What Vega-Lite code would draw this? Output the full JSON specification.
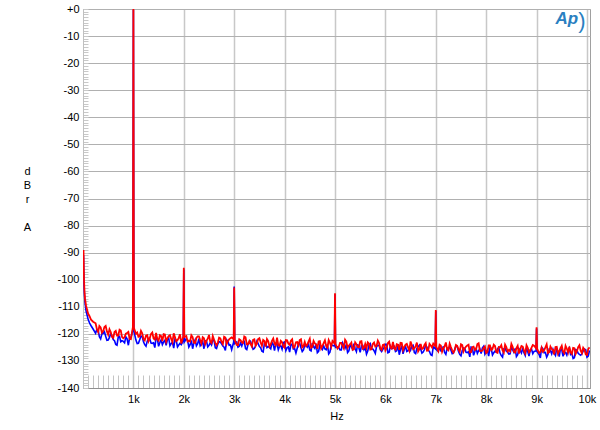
{
  "$schema": "https://vega.github.io/schema/vega-lite/v6.json",
  "width": 507,
  "height": 379,
  "autosize": {"type": "none"},
  "padding": {"left": 83, "top": 9, "right": 10, "bottom": 42},
  "background": "white",
  "config": {"view": {"stroke": "#a0a0a0", "strokeWidth": 1}, "font": "Liberation Sans"},
  "data": {"values": [
    {"f":10,"r":-89,"b":-91},{"f":20,"r":-100,"b":-102},{"f":30,"r":-104.5,"b":-106},{"f":40,"r":-107,"b":-108.5},
    {"f":60,"r":-109.5,"b":-111.5},{"f":80,"r":-111,"b":-113},{"f":100,"r":-112.5,"b":-114.5},{"f":130,"r":-113.5,"b":-116},
    {"f":160,"r":-114.8,"b":-117},{"f":200,"r":-115.5,"b":-118.2},
    {"f":250,"r":-116.1,"b":-119.8},{"f":300,"r":-119.3,"b":-118.5},{"f":350,"r":-117.6,"b":-121.9},{"f":400,"r":-119.0,"b":-119.8},
    {"f":450,"r":-117.1,"b":-120.9},{"f":500,"r":-120.3,"b":-122.3},{"f":550,"r":-119.3,"b":-119.9},{"f":600,"r":-121.5,"b":-122.1},
    {"f":650,"r":-118.9,"b":-123.9},{"f":700,"r":-120.6,"b":-121.1},{"f":750,"r":-118.8,"b":-122.9},{"f":800,"r":-121.6,"b":-122.8},
    {"f":850,"r":-119.9,"b":-121.1},{"f":900,"r":-119.3,"b":-124.2},{"f":950,"r":-122.0,"b":-121.4},
    {"f":990,"r":-117.5,"b":-118.5},{"f":1000,"r":0,"b":-0.3},{"f":1010,"r":-117.8,"b":-119.0},
    {"f":1050,"r":-120.0,"b":-122.3},{"f":1100,"r":-121.1,"b":-123.5},{"f":1150,"r":-118.9,"b":-120.8},{"f":1200,"r":-121.9,"b":-122.9},
    {"f":1250,"r":-120.7,"b":-124.6},{"f":1300,"r":-122.7,"b":-121.7},{"f":1350,"r":-120.0,"b":-123.4},{"f":1400,"r":-121.7,"b":-123.3},
    {"f":1450,"r":-119.7,"b":-121.5},{"f":1500,"r":-122.5,"b":-124.6},{"f":1550,"r":-120.8,"b":-122.2},{"f":1600,"r":-120.1,"b":-123.0},
    {"f":1650,"r":-122.9,"b":-124.2},{"f":1700,"r":-120.8,"b":-121.5},{"f":1750,"r":-121.9,"b":-123.6},{"f":1800,"r":-119.8,"b":-125.3},
    {"f":1850,"r":-122.7,"b":-122.4},{"f":1900,"r":-121.5,"b":-124.1},{"f":1950,"r":-123.6,"b":-124.0},
    {"f":1990,"r":-121.0,"b":-122.5},{"f":2000,"r":-95.6,"b":-96.2},{"f":2010,"r":-121.2,"b":-123.0},
    {"f":2050,"r":-120.8,"b":-121.8},{"f":2100,"r":-122.5,"b":-124.9},{"f":2150,"r":-120.5,"b":-122.4},{"f":2200,"r":-123.3,"b":-123.3},
    {"f":2250,"r":-121.5,"b":-124.4},{"f":2300,"r":-120.9,"b":-121.8},{"f":2350,"r":-123.6,"b":-123.8},{"f":2400,"r":-121.6,"b":-125.5},
    {"f":2450,"r":-122.6,"b":-122.6},{"f":2500,"r":-120.4,"b":-124.2},{"f":2550,"r":-123.4,"b":-124.1},{"f":2600,"r":-122.1,"b":-122.3},
    {"f":2650,"r":-124.2,"b":-125.4},{"f":2700,"r":-121.4,"b":-122.9},{"f":2750,"r":-123.0,"b":-123.7},{"f":2800,"r":-121.1,"b":-124.9},
    {"f":2850,"r":-123.8,"b":-122.2},{"f":2900,"r":-122.0,"b":-124.2},{"f":2950,"r":-121.3,"b":-125.8},
    {"f":2990,"r":-122.0,"b":-123.0},{"f":3000,"r":-102.9,"b":-102.5},{"f":3010,"r":-122.3,"b":-123.6},
    {"f":3050,"r":-124.1,"b":-123.0},{"f":3100,"r":-122.0,"b":-124.6},{"f":3150,"r":-123.1,"b":-124.5},{"f":3200,"r":-121.0,"b":-122.8},
    {"f":3250,"r":-123.9,"b":-125.8},{"f":3300,"r":-122.7,"b":-123.4},{"f":3350,"r":-124.7,"b":-124.2},{"f":3400,"r":-122.0,"b":-125.4},
    {"f":3450,"r":-123.6,"b":-122.7},{"f":3500,"r":-121.6,"b":-124.7},{"f":3550,"r":-124.4,"b":-126.4},{"f":3600,"r":-122.6,"b":-123.5},
    {"f":3650,"r":-121.9,"b":-125.1},{"f":3700,"r":-124.7,"b":-125.0},{"f":3750,"r":-122.6,"b":-123.2},{"f":3800,"r":-123.6,"b":-126.2},
    {"f":3850,"r":-121.4,"b":-123.7},{"f":3900,"r":-124.4,"b":-124.6},{"f":3950,"r":-123.1,"b":-125.7},{"f":4000,"r":-125.1,"b":-123.0},
    {"f":4050,"r":-122.4,"b":-125.1},{"f":4100,"r":-124.0,"b":-126.7},{"f":4150,"r":-122.0,"b":-123.8},{"f":4200,"r":-124.8,"b":-125.5},
    {"f":4250,"r":-123.0,"b":-125.3},{"f":4300,"r":-122.3,"b":-123.5},{"f":4350,"r":-125.0,"b":-126.5},{"f":4400,"r":-123.0,"b":-124.1},
    {"f":4450,"r":-124.0,"b":-124.9},{"f":4500,"r":-121.8,"b":-126.0},{"f":4550,"r":-124.8,"b":-123.4},{"f":4600,"r":-123.5,"b":-125.4},
    {"f":4650,"r":-125.5,"b":-127.0},{"f":4700,"r":-122.7,"b":-124.1},{"f":4750,"r":-124.4,"b":-125.8},{"f":4800,"r":-122.4,"b":-125.6},
    {"f":4850,"r":-125.1,"b":-123.8},{"f":4900,"r":-123.3,"b":-126.8},{"f":4950,"r":-122.6,"b":-124.3},
    {"f":4990,"r":-123.5,"b":-124.5},{"f":5000,"r":-105.0,"b":-105.4},{"f":5010,"r":-123.8,"b":-125.0},
    {"f":5050,"r":-125.4,"b":-124.8},{"f":5100,"r":-123.3,"b":-125.9},{"f":5150,"r":-124.4,"b":-123.3},{"f":5200,"r":-122.2,"b":-125.3},
    {"f":5250,"r":-125.1,"b":-126.9},{"f":5300,"r":-123.9,"b":-124.1},{"f":5350,"r":-125.9,"b":-125.7},{"f":5400,"r":-123.1,"b":-125.5},
    {"f":5450,"r":-124.8,"b":-123.8},{"f":5500,"r":-122.8,"b":-126.8},{"f":5550,"r":-125.5,"b":-124.3},{"f":5600,"r":-123.7,"b":-125.1},
    {"f":5650,"r":-123.1,"b":-126.3},{"f":5700,"r":-125.8,"b":-123.6},{"f":5750,"r":-123.7,"b":-125.6},{"f":5800,"r":-124.7,"b":-127.2},
    {"f":5850,"r":-122.5,"b":-124.3},{"f":5900,"r":-125.4,"b":-125.9},{"f":5950,"r":-124.1,"b":-125.7},{"f":6000,"r":-126.1,"b":-123.9},
    {"f":6050,"r":-123.4,"b":-127.0},{"f":6100,"r":-125.0,"b":-124.5},{"f":6150,"r":-123.0,"b":-125.3},{"f":6200,"r":-125.8,"b":-126.5},
    {"f":6250,"r":-124.0,"b":-123.8},{"f":6300,"r":-123.3,"b":-125.8},{"f":6350,"r":-126.0,"b":-127.4},{"f":6400,"r":-124.0,"b":-124.6},
    {"f":6450,"r":-125.0,"b":-126.2},{"f":6500,"r":-122.8,"b":-126.0},{"f":6550,"r":-125.7,"b":-124.2},{"f":6600,"r":-124.5,"b":-127.3},
    {"f":6650,"r":-126.5,"b":-124.8},{"f":6700,"r":-123.7,"b":-125.6},{"f":6750,"r":-125.3,"b":-126.7},{"f":6800,"r":-123.4,"b":-124.1},
    {"f":6850,"r":-126.1,"b":-126.1},{"f":6900,"r":-124.3,"b":-127.7},{"f":6950,"r":-123.6,"b":-124.8},
    {"f":6990,"r":-124.5,"b":-125.5},{"f":7000,"r":-111.2,"b":-111.6},{"f":7010,"r":-124.8,"b":-125.8},
    {"f":7050,"r":-126.4,"b":-126.5},{"f":7100,"r":-124.3,"b":-126.3},{"f":7150,"r":-125.4,"b":-124.6},{"f":7200,"r":-123.2,"b":-127.6},
    {"f":7250,"r":-126.1,"b":-125.1},{"f":7300,"r":-124.9,"b":-126.0},{"f":7350,"r":-126.9,"b":-127.1},{"f":7400,"r":-124.1,"b":-124.4},
    {"f":7450,"r":-125.7,"b":-126.4},{"f":7500,"r":-123.8,"b":-128.1},{"f":7550,"r":-126.5,"b":-125.2},{"f":7600,"r":-124.7,"b":-126.8},
    {"f":7650,"r":-124.0,"b":-126.6},{"f":7700,"r":-126.8,"b":-124.9},{"f":7750,"r":-124.7,"b":-127.9},{"f":7800,"r":-125.7,"b":-125.4},
    {"f":7850,"r":-123.5,"b":-126.2},{"f":7900,"r":-126.4,"b":-127.3},{"f":7950,"r":-125.1,"b":-124.6},{"f":8000,"r":-127.1,"b":-126.6},
    {"f":8050,"r":-124.3,"b":-128.2},{"f":8100,"r":-126.0,"b":-125.4},{"f":8150,"r":-124.0,"b":-127.0},{"f":8200,"r":-126.7,"b":-126.8},
    {"f":8250,"r":-124.9,"b":-125.0},{"f":8300,"r":-124.2,"b":-128.0},{"f":8350,"r":-126.9,"b":-125.5},{"f":8400,"r":-124.9,"b":-126.4},
    {"f":8450,"r":-125.9,"b":-127.5},{"f":8500,"r":-123.7,"b":-124.8},{"f":8550,"r":-126.6,"b":-126.8},{"f":8600,"r":-125.3,"b":-128.4},
    {"f":8650,"r":-127.3,"b":-125.5},{"f":8700,"r":-124.5,"b":-127.1},{"f":8750,"r":-126.2,"b":-127.0},{"f":8800,"r":-124.2,"b":-125.2},
    {"f":8850,"r":-126.9,"b":-128.2},{"f":8900,"r":-125.1,"b":-125.7},{"f":8950,"r":-124.4,"b":-126.5},
    {"f":8990,"r":-125.3,"b":-126.3},{"f":9000,"r":-117.6,"b":-118.0},{"f":9010,"r":-125.5,"b":-126.6},
    {"f":9050,"r":-127.1,"b":-127.6},{"f":9100,"r":-125.1,"b":-125.0},{"f":9150,"r":-126.1,"b":-127.0},{"f":9200,"r":-123.9,"b":-128.6},
    {"f":9250,"r":-126.8,"b":-125.7},{"f":9300,"r":-125.6,"b":-127.4},{"f":9350,"r":-127.6,"b":-127.2},{"f":9400,"r":-124.8,"b":-125.4},
    {"f":9450,"r":-126.4,"b":-128.4},{"f":9500,"r":-124.4,"b":-125.9},{"f":9550,"r":-127.2,"b":-126.8},{"f":9600,"r":-125.4,"b":-127.9},
    {"f":9650,"r":-124.7,"b":-125.2},{"f":9700,"r":-127.4,"b":-127.2},{"f":9750,"r":-125.3,"b":-128.8},{"f":9800,"r":-126.4,"b":-126.0},
    {"f":9850,"r":-124.2,"b":-127.6},{"f":9900,"r":-127.1,"b":-127.4},{"f":9950,"r":-125.8,"b":-125.6},{"f":10000,"r":-127.8,"b":-128.6},
    {"f":10050,"r":-125.0,"b":-126.1},
    {"f":275,"r":-118.2,"b":-118.3},{"f":325,"r":-117.1,"b":-121.1},{"f":375,"r":-119.6,"b":-120.0},{"f":425,"r":-117.5,"b":-119.2},
    {"f":475,"r":-119.1,"b":-122.4},{"f":525,"r":-118.3,"b":-121.3},{"f":575,"r":-121.1,"b":-120.8},{"f":625,"r":-119.3,"b":-122.5},
    {"f":675,"r":-120.6,"b":-124.2},{"f":725,"r":-118.5,"b":-120.9},{"f":775,"r":-121.2,"b":-122.5},{"f":825,"r":-121.2,"b":-123.3},
    {"f":875,"r":-119.7,"b":-121.8},{"f":925,"r":-121.9,"b":-121.5},
    {"f":1075,"r":-119.5,"b":-123.6},{"f":1125,"r":-120.9,"b":-122.2},{"f":1175,"r":-119.8,"b":-121.0},{"f":1225,"r":-122.4,"b":-124.0},
    {"f":1275,"r":-120.5,"b":-122.7},{"f":1325,"r":-121.6,"b":-121.9},{"f":1375,"r":-119.5,"b":-123.5},{"f":1425,"r":-122.1,"b":-125.1},
    {"f":1475,"r":-122.0,"b":-121.7},{"f":1525,"r":-120.5,"b":-123.2},{"f":1575,"r":-122.7,"b":-124.0},{"f":1625,"r":-120.2,"b":-122.4},
    {"f":1675,"r":-121.6,"b":-122.1},{"f":1725,"r":-120.5,"b":-124.4},{"f":1775,"r":-123.1,"b":-123.0},{"f":1825,"r":-121.2,"b":-121.9},
    {"f":1875,"r":-122.3,"b":-124.8},{"f":1925,"r":-120.2,"b":-123.5},
    {"f":2075,"r":-122.8,"b":-122.4},{"f":2125,"r":-122.8,"b":-124.0},{"f":2175,"r":-121.2,"b":-125.5},{"f":2225,"r":-123.4,"b":-122.2},
    {"f":2275,"r":-120.9,"b":-123.6},{"f":2325,"r":-122.3,"b":-124.4},{"f":2375,"r":-121.2,"b":-122.8},{"f":2425,"r":-123.8,"b":-122.5},
    {"f":2475,"r":-121.8,"b":-124.8},{"f":2525,"r":-122.9,"b":-123.3},{"f":2575,"r":-120.8,"b":-122.2},{"f":2625,"r":-123.3,"b":-125.1},
    {"f":2675,"r":-123.3,"b":-123.8},{"f":2725,"r":-121.7,"b":-123.0},{"f":2775,"r":-123.8,"b":-124.5},{"f":2825,"r":-121.4,"b":-126.1},
    {"f":2875,"r":-122.7,"b":-122.7},{"f":2925,"r":-121.6,"b":-124.1},
    {"f":3075,"r":-124.2,"b":-124.9},{"f":3125,"r":-122.3,"b":-123.4},{"f":3175,"r":-123.4,"b":-123.0},{"f":3225,"r":-121.3,"b":-125.4},
    {"f":3275,"r":-123.8,"b":-123.9},{"f":3325,"r":-123.8,"b":-122.8},{"f":3375,"r":-122.2,"b":-125.7},{"f":3425,"r":-124.4,"b":-124.4},
    {"f":3475,"r":-121.9,"b":-123.6},{"f":3525,"r":-123.2,"b":-125.1},{"f":3575,"r":-122.2,"b":-126.7},{"f":3625,"r":-124.7,"b":-123.3},
    {"f":3675,"r":-122.7,"b":-124.7},{"f":3725,"r":-123.9,"b":-125.5},{"f":3775,"r":-121.7,"b":-123.9},{"f":3825,"r":-124.2,"b":-123.5},
    {"f":3875,"r":-124.2,"b":-125.9},{"f":3925,"r":-122.6,"b":-124.4},{"f":3975,"r":-124.7,"b":-123.2},{"f":4025,"r":-122.3,"b":-126.2},
    {"f":4075,"r":-123.6,"b":-124.8},{"f":4125,"r":-122.5,"b":-124.0},{"f":4175,"r":-125.1,"b":-125.6},{"f":4225,"r":-123.1,"b":-127.1},
    {"f":4275,"r":-124.2,"b":-123.7},{"f":4325,"r":-122.0,"b":-125.1},{"f":4375,"r":-124.6,"b":-125.9},{"f":4425,"r":-124.5,"b":-124.3},
    {"f":4475,"r":-122.9,"b":-123.9},{"f":4525,"r":-125.1,"b":-126.3},{"f":4575,"r":-122.6,"b":-124.8},{"f":4625,"r":-123.9,"b":-123.6},
    {"f":4675,"r":-122.8,"b":-126.5},{"f":4725,"r":-125.4,"b":-125.2},{"f":4775,"r":-123.4,"b":-124.4},{"f":4825,"r":-124.5,"b":-125.9},
    {"f":4875,"r":-122.3,"b":-127.4},{"f":4925,"r":-124.8,"b":-124.0},
    {"f":5075,"r":-124.8,"b":-125.1},{"f":5125,"r":-123.3,"b":-125.9},{"f":5175,"r":-125.4,"b":-124.3},{"f":5225,"r":-122.9,"b":-123.9},
    {"f":5275,"r":-124.3,"b":-126.3},{"f":5325,"r":-123.2,"b":-124.8},{"f":5375,"r":-125.7,"b":-123.6},{"f":5425,"r":-123.8,"b":-126.6},
    {"f":5475,"r":-124.9,"b":-125.2},{"f":5525,"r":-122.7,"b":-124.4},{"f":5575,"r":-125.2,"b":-125.9},{"f":5625,"r":-125.2,"b":-127.5},
    {"f":5675,"r":-123.6,"b":-124.1},{"f":5725,"r":-125.7,"b":-125.5},{"f":5775,"r":-123.2,"b":-126.2},{"f":5825,"r":-124.5,"b":-124.6},
    {"f":5875,"r":-123.4,"b":-124.2},{"f":5925,"r":-125.9,"b":-126.5},{"f":5975,"r":-123.9,"b":-125.0},{"f":6025,"r":-125.1,"b":-123.9},
    {"f":6075,"r":-122.9,"b":-126.8},{"f":6125,"r":-125.4,"b":-125.4},{"f":6175,"r":-125.4,"b":-124.7},{"f":6225,"r":-123.8,"b":-126.2},
    {"f":6275,"r":-125.9,"b":-127.7},{"f":6325,"r":-123.4,"b":-124.3},{"f":6375,"r":-124.8,"b":-125.8},{"f":6425,"r":-123.7,"b":-126.5},
    {"f":6475,"r":-126.2,"b":-124.9},{"f":6525,"r":-124.2,"b":-124.5},{"f":6575,"r":-125.4,"b":-126.9},{"f":6625,"r":-123.2,"b":-125.4},
    {"f":6675,"r":-125.7,"b":-124.2},{"f":6725,"r":-125.6,"b":-127.1},{"f":6775,"r":-124.1,"b":-125.8},{"f":6825,"r":-126.2,"b":-125.0},
    {"f":6875,"r":-123.7,"b":-126.5},{"f":6925,"r":-125.0,"b":-128.0},
    {"f":7075,"r":-124.0,"b":-124.7},{"f":7125,"r":-126.6,"b":-126.2},{"f":7175,"r":-124.6,"b":-126.9},{"f":7225,"r":-125.7,"b":-125.3},
    {"f":7275,"r":-123.6,"b":-125.0},{"f":7325,"r":-126.1,"b":-127.3},{"f":7375,"r":-126.0,"b":-125.8},{"f":7425,"r":-124.4,"b":-124.6},
    {"f":7475,"r":-126.6,"b":-127.6},{"f":7525,"r":-124.1,"b":-126.2},{"f":7575,"r":-125.4,"b":-125.4},{"f":7625,"r":-124.3,"b":-126.9},
    {"f":7675,"r":-126.9,"b":-128.5},{"f":7725,"r":-124.9,"b":-125.1},{"f":7775,"r":-126.0,"b":-126.5},{"f":7825,"r":-123.8,"b":-127.2},
    {"f":7875,"r":-126.3,"b":-125.6},{"f":7925,"r":-126.2,"b":-125.2},{"f":7975,"r":-124.6,"b":-127.5},{"f":8025,"r":-126.7,"b":-126.0},
    {"f":8075,"r":-124.3,"b":-124.9},{"f":8125,"r":-125.6,"b":-127.8},{"f":8175,"r":-124.5,"b":-126.4},{"f":8225,"r":-127.0,"b":-125.6},
    {"f":8275,"r":-125.0,"b":-127.1},{"f":8325,"r":-126.1,"b":-128.6},{"f":8375,"r":-124.0,"b":-125.3},{"f":8425,"r":-126.5,"b":-126.7},
    {"f":8475,"r":-126.4,"b":-127.4},{"f":8525,"r":-124.8,"b":-125.8},{"f":8575,"r":-126.9,"b":-125.4},{"f":8625,"r":-124.4,"b":-127.7},
    {"f":8675,"r":-125.7,"b":-126.2},{"f":8725,"r":-124.7,"b":-125.1},{"f":8775,"r":-127.2,"b":-128.0},{"f":8825,"r":-125.2,"b":-126.6},
    {"f":8875,"r":-126.3,"b":-125.8},{"f":8925,"r":-124.1,"b":-127.3},
    {"f":9075,"r":-126.7,"b":-128.9},{"f":9125,"r":-126.6,"b":-125.5},{"f":9175,"r":-125.0,"b":-126.9},{"f":9225,"r":-127.1,"b":-127.6},
    {"f":9275,"r":-124.7,"b":-126.1},{"f":9325,"r":-126.0,"b":-125.7},{"f":9375,"r":-124.9,"b":-128.0},{"f":9425,"r":-127.4,"b":-126.5},
    {"f":9475,"r":-125.4,"b":-125.3},{"f":9525,"r":-126.6,"b":-128.3},{"f":9575,"r":-124.4,"b":-126.9},{"f":9625,"r":-126.9,"b":-126.1},
    {"f":9675,"r":-126.8,"b":-127.6},{"f":9725,"r":-125.2,"b":-129.1},{"f":9775,"r":-127.4,"b":-125.8},{"f":9825,"r":-124.9,"b":-127.2},
    {"f":9875,"r":-126.2,"b":-127.9},{"f":9925,"r":-125.1,"b":-126.3},{"f":9975,"r":-127.6,"b":-125.9},{"f":10025,"r":-125.6,"b":-128.2}
  ]},
  "layer": [
    {
      "mark": {"type": "line", "color": "#0000ff", "strokeWidth": 1.6, "clip": true, "interpolate": "linear"},
      "encoding": {
        "x": {"field": "f", "type": "quantitative",
          "scale": {"domain": [0, 10060], "nice": false, "zero": false},
          "axis": {
            "values": [100,200,300,400,500,600,700,800,900,1000,1100,1200,1300,1400,1500,1600,1700,1800,1900,2000,2100,2200,2300,2400,2500,2600,2700,2800,2900,3000,3100,3200,3300,3400,3500,3600,3700,3800,3900,4000,4100,4200,4300,4400,4500,4600,4700,4800,4900,5000,5100,5200,5300,5400,5500,5600,5700,5800,5900,6000,6100,6200,6300,6400,6500,6600,6700,6800,6900,7000,7100,7200,7300,7400,7500,7600,7700,7800,7900,8000,8100,8200,8300,8400,8500,8600,8700,8800,8900,9000,9100,9200,9300,9400,9500,9600,9700,9800,9900,10000],
            "tickCount": 300,
            "title": "Hz",
            "grid": true,
            "gridColor": "#c8c8c8",
            "gridWidth": 1.5,
            "gridOpacity": {"condition": {"test": "datum.value % 1000 === 0", "value": 1}, "value": 0},
            "tickSize": -13,
            "tickColor": "#c4c4c4",
            "domainColor": "#909090",
            "labelExpr": "datum.value % 1000 === 0 ? (datum.value / 1000) + 'k' : ''",
            "labelOverlap": false,
            "labelFont": "Liberation Sans",
            "labelFontSize": 11,
            "labelColor": "#000000",
            "labelPadding": 18,
            "titleFont": "Liberation Sans",
            "titleFontSize": 11,
            "titleFontWeight": "normal",
            "titleColor": "#000000",
            "titlePadding": 6
          }
        },
        "y": {"field": "b", "type": "quantitative",
          "scale": {"domain": [-140, 0], "nice": false, "zero": false},
          "axis": {
            "values": [-140,-139,-138,-137,-136,-135,-134,-133,-132,-131,-130,-129,-128,-127,-126,-125,-124,-123,-122,-121,-120,-119,-118,-117,-116,-115,-114,-113,-112,-111,-110,-109,-108,-107,-106,-105,-104,-103,-102,-101,-100,-99,-98,-97,-96,-95,-94,-93,-92,-91,-90,-89,-88,-87,-86,-85,-84,-83,-82,-81,-80,-79,-78,-77,-76,-75,-74,-73,-72,-71,-70,-69,-68,-67,-66,-65,-64,-63,-62,-61,-60,-59,-58,-57,-56,-55,-54,-53,-52,-51,-50,-49,-48,-47,-46,-45,-44,-43,-42,-41,-40,-39,-38,-37,-36,-35,-34,-33,-32,-31,-30,-29,-28,-27,-26,-25,-24,-23,-22,-21,-20,-19,-18,-17,-16,-15,-14,-13,-12,-11,-10,-9,-8,-7,-6,-5,-4,-3,-2,-1,0],
            "tickCount": 300,
            "title": ["d", "B", "r", "\u2800", "A"],
            "titleAngle": 0,
            "titleAlign": "center",
            "titleBaseline": "alphabetic",
            "titleLineHeight": 14,
            "titleX": -56,
            "titleY": 165,
            "titleFont": "Liberation Sans",
            "titleFontSize": 11,
            "titleFontWeight": "normal",
            "titleColor": "#000000",
            "grid": true,
            "gridColor": "#b0b0b0",
            "gridWidth": 1,
            "gridOpacity": {"condition": {"test": "datum.value % 10 === 0", "value": 1}, "value": 0},
            "tickSize": -5,
            "tickColor": "#c8c8c8",
            "domainColor": "#c0c0c0",
            "labelExpr": "datum.value % 10 === 0 ? (datum.value === 0 ? '+0' : '' + datum.value) : ''",
            "labelOverlap": false,
            "labelFont": "Liberation Sans",
            "labelFontSize": 11,
            "labelColor": "#000000",
            "labelPadding": 9
          }
        }
      }
    },
    {
      "mark": {"type": "line", "color": "#ff0000", "strokeWidth": 1.8, "clip": true, "interpolate": "linear"},
      "encoding": {
        "x": {"field": "f", "type": "quantitative"},
        "y": {"field": "r", "type": "quantitative"}
      }
    },
    {
      "data": {"values": [{"logo": "Ap", "fx": 9600, "dy": -3.8}]},
      "mark": {"type": "text", "font": "Liberation Sans", "fontSize": 17, "fontStyle": "italic", "fontWeight": "bold", "color": "#2a7fc1", "align": "center", "baseline": "middle"},
      "encoding": {
        "x": {"field": "fx", "type": "quantitative"},
        "y": {"field": "dy", "type": "quantitative"},
        "text": {"field": "logo"}
      }
    },
    {
      "data": {"values": [{"arc": ")", "fx": 9900, "dy": -4.3}]},
      "mark": {"type": "text", "font": "Liberation Sans", "fontSize": 22, "color": "#2a7fc1", "align": "center", "baseline": "middle"},
      "encoding": {
        "x": {"field": "fx", "type": "quantitative"},
        "y": {"field": "dy", "type": "quantitative"},
        "text": {"field": "arc"}
      }
    }
  ]
}
